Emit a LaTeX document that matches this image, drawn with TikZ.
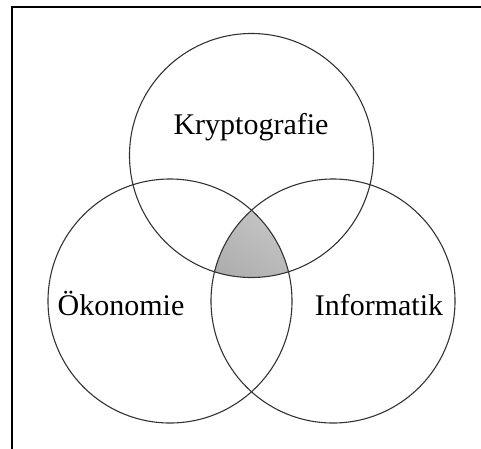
\documentclass[tikz,border=0pt]{standalone}
\usepackage{fontspec}
\setmainfont{Liberation Serif}
\begin{document}
\begin{tikzpicture}[x=1pt,y=-1pt,
  venn/.style={draw=black!80, line width=1.1pt},
  label/.style={font=\fontsize{30}{36}\selectfont, inner sep=0pt, anchor=base},
  frameline/.style={draw=black, line width=2pt}]
  \useasboundingbox (0,0) rectangle (481,448);
  \clip (0,0) rectangle (481,448);
  % frame running off the page to the right and below
  \draw[frameline] (11.5,470) -- (11.5,6.5) -- (500,6.5);
  % circle centres
  \coordinate (ck) at (251.5,155.5);
  \coordinate (co) at (170,301);
  \coordinate (ci) at (333,301);
  % shaded common part of all three sets
  \begin{scope}
    \clip (ck) circle (122);
    \clip (co) circle (122);
    \shade[top color=black!12, bottom color=black!42, shading angle=-35] (ci) circle (122);
  \end{scope}
  \draw[venn] (ck) circle (122);
  \draw[venn] (co) circle (122);
  \draw[venn] (ci) circle (122);
  \node[label] (krypto) at (251,134) {Kryptografie};
  \node[label] (oeko) at (121,315) {Ökonomie};
  \node[label] (info) at (379,315) {Informatik};
\end{tikzpicture}
\end{document}
